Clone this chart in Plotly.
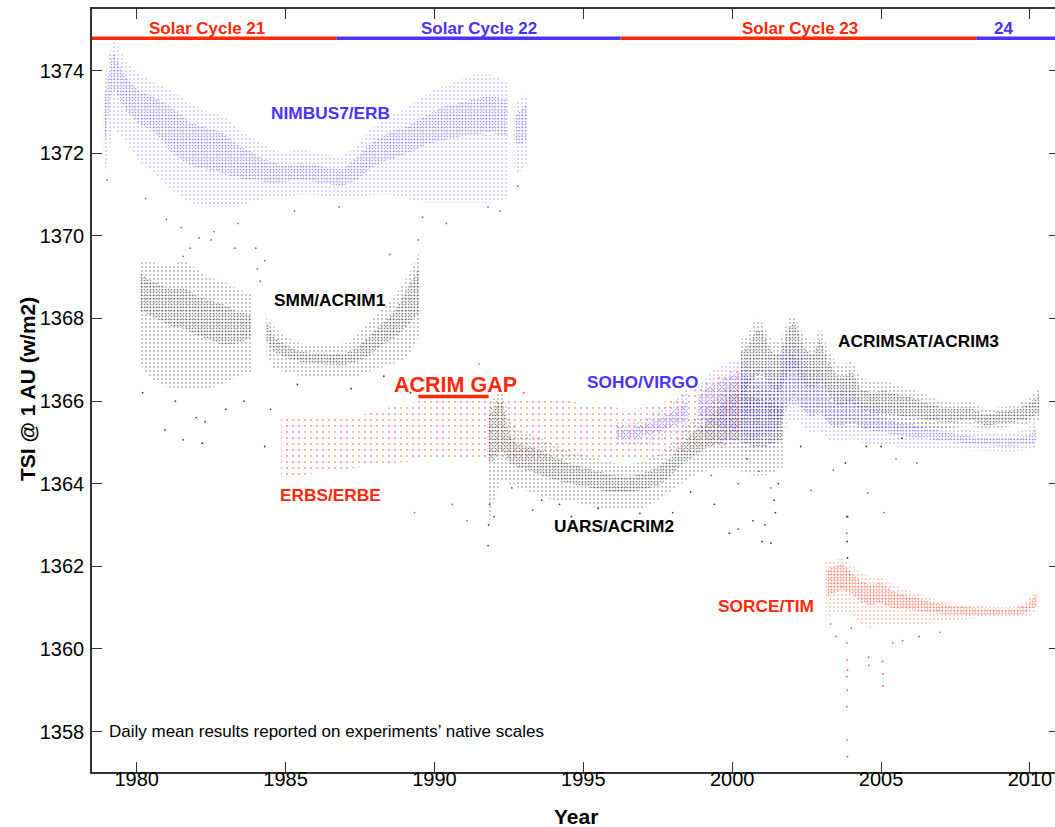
import plotly.graph_objects as go

BLUE = "#4B32FF"
RED = "#FF2A0A"
BLACK = "#000000"
FONT = "Liberation Sans, Arial, Helvetica, sans-serif"

# ---------------- data ----------------
# NIMBUS7/ERB  (None = data gap)
nim_yr   = [1978.88, 1979.05, 1979.2, 1979.5, 1979.8, 1980.1, 1980.6, 1981.2, 1981.8, 1982.4, 1982.9, 1983.4, 1983.8, 1984.3, 1984.9, 1985.5, 1986.0, 1986.5, 1986.9, 1987.4, 1987.9, 1988.5, 1989.1, 1989.7, 1990.2, 1990.8, 1991.3, 1991.9, 1992.45, None, 1992.68, 1992.85, 1993.1]
nim_clo  = [1372.0, 1372.9, 1373.6, 1373.2, 1372.9, 1372.7, 1372.5, 1372.0, 1371.7, 1371.6, 1371.5, 1371.4, 1371.35, 1371.3, 1371.3, 1371.35, 1371.3, 1371.25, 1371.2, 1371.35, 1371.65, 1371.85, 1372.0, 1372.2, 1372.3, 1372.4, 1372.45, 1372.5, 1372.4, None, 1372.3, 1372.2, 1372.3]
nim_chi  = [1373.2, 1373.9, 1374.5, 1374.0, 1373.7, 1373.5, 1373.35, 1373.1, 1372.75, 1372.6, 1372.5, 1372.2, 1372.05, 1371.85, 1371.7, 1371.75, 1371.7, 1371.65, 1371.6, 1371.9, 1372.25, 1372.5, 1372.65, 1372.9, 1373.1, 1373.2, 1373.3, 1373.4, 1373.3, None, 1372.9, 1373.0, 1373.2]
nim_slo  = [1371.3, 1372.0, 1372.6, 1372.4, 1372.1, 1371.8, 1371.5, 1371.1, 1370.8, 1370.7, 1370.7, 1370.7, 1370.8, 1370.9, 1370.9, 1371.0, 1371.0, 1370.9, 1370.9, 1370.9, 1371.0, 1371.0, 1370.9, 1370.8, 1370.8, 1370.8, 1370.8, 1370.8, 1370.9, None, 1371.6, 1371.5, 1371.7]
nim_shi  = [1373.6, 1374.3, 1374.8, 1374.4, 1374.1, 1373.9, 1373.7, 1373.5, 1373.2, 1373.0, 1372.9, 1372.6, 1372.4, 1372.2, 1372.0, 1372.1, 1372.0, 1371.95, 1371.9, 1372.2, 1372.6, 1372.9, 1373.1, 1373.4, 1373.6, 1373.75, 1373.9, 1373.9, 1373.7, None, 1373.2, 1373.3, 1373.4]
nim_dip_yr = [1979.0, 1980.3, 1981.0, 1981.5, 1981.56, 1981.8, 1982.1, 1982.5, 1982.6, 1983.3, 1983.4, 1984.0, 1984.05, 1984.15, 1984.3, 1985.3, 1986.8, 1988.5, 1989.46, 1989.6, 1990.4, 1991.8, 1992.2, 1992.8]
nim_dip_v  = [1371.35, 1370.9, 1370.4, 1370.2, 1369.5, 1369.7, 1369.95, 1369.9, 1370.1, 1369.7, 1370.3, 1369.7, 1369.2, 1368.9, 1369.4, 1370.6, 1370.7, 1369.55, 1369.9, 1370.45, 1370.3, 1370.7, 1370.6, 1371.2]

# SMM/ACRIM1
ac1_yr  = [1980.1, 1980.4, 1980.8, 1981.2, 1981.6, 1982.0, 1982.4, 1982.9, 1983.4, 1983.85, None, 1984.35, 1984.6, 1985.0, 1985.5, 1986.0, 1986.5, 1987.0, 1987.4, 1987.8, 1988.2, 1988.6, 1989.0, 1989.3, 1989.5]
ac1_clo = [1368.2, 1368.1, 1367.95, 1367.8, 1367.75, 1367.6, 1367.5, 1367.35, 1367.4, 1367.55, None, 1367.45, 1367.2, 1367.05, 1366.95, 1366.9, 1366.88, 1366.88, 1366.95, 1367.1, 1367.35, 1367.5, 1367.75, 1368.0, 1368.1]
ac1_chi = [1369.1, 1368.95, 1368.8, 1368.7, 1368.75, 1368.55, 1368.45, 1368.35, 1368.15, 1368.1, None, 1367.95, 1367.55, 1367.35, 1367.2, 1367.15, 1367.12, 1367.15, 1367.3, 1367.55, 1367.85, 1368.1, 1368.6, 1369.0, 1369.25]
ac1_slo = [1366.9, 1366.6, 1366.4, 1366.3, 1366.3, 1366.3, 1366.3, 1366.4, 1366.6, 1366.7, None, 1367.1, 1366.8, 1366.7, 1366.6, 1366.6, 1366.6, 1366.6, 1366.6, 1366.7, 1366.8, 1366.9, 1367.0, 1367.3, 1367.6]
ac1_shi = [1369.4, 1369.4, 1369.3, 1369.3, 1369.4, 1369.2, 1369.0, 1368.9, 1368.7, 1368.6, None, 1368.1, 1367.8, 1367.55, 1367.4, 1367.35, 1367.35, 1367.4, 1367.6, 1367.9, 1368.2, 1368.5, 1368.9, 1369.3, 1369.6]
ac1_dip_yr = [1980.2, 1980.95, 1981.3, 1981.56, 1982.0, 1982.2, 1982.3, 1983.0, 1983.6, 1984.3, 1984.5, 1985.4, 1987.2, 1988.3, 1989.2]
ac1_dip_v  = [1366.2, 1365.3, 1366.0, 1365.06, 1365.6, 1364.98, 1365.5, 1365.8, 1366.0, 1364.9, 1365.8, 1366.4, 1366.3, 1366.6, 1366.2]

# ERBS/ERBE
erb_yr  = [1984.85, 1985.5, 1986.5, 1987.5, 1988.5, 1989.5, 1990.5, 1991.5, 1992.5, 1993.5, 1994.5, 1995.5, 1996.5, 1997.5, 1998.5, 1999.5, 2000.3]
erb_lo  = [1364.2, 1364.2, 1364.3, 1364.4, 1364.5, 1364.55, 1364.6, 1364.6, 1364.6, 1364.6, 1364.6, 1364.6, 1364.6, 1364.65, 1364.8, 1364.9, 1365.0]
erb_hi  = [1365.6, 1365.6, 1365.55, 1365.65, 1365.85, 1366.0, 1366.05, 1366.1, 1366.1, 1366.0, 1366.0, 1365.9, 1365.8, 1365.9, 1366.2, 1366.6, 1366.8]
erb_dip_yr = [1989.33, 1990.6, 1991.1, 1991.5, 1993.0]
erb_dip_v  = [1363.3, 1363.5, 1363.1, 1366.9, 1366.2]

# UARS/ACRIM2
ac2_yr  = [1991.77, 1991.9, 1992.1, 1992.3, 1992.5, 1992.8, 1993.2, 1993.6, 1994.0, 1994.5, 1995.0, 1995.5, 1996.0, 1996.5, 1997.0, 1997.5, 1997.9, 1998.3, 1998.7, 1999.1, 1999.5, 1999.9, 2000.3, 2000.7, 2001.1, 2001.5, 2001.7]
ac2_clo = [1364.6, 1364.5, 1364.7, 1364.8, 1364.5, 1364.4, 1364.3, 1364.2, 1364.1, 1364.0, 1363.95, 1363.85, 1363.8, 1363.8, 1363.85, 1363.95, 1364.15, 1364.45, 1364.65, 1364.85, 1364.95, 1365.05, 1365.0, 1364.9, 1364.9, 1365.0, 1365.0]
ac2_chi = [1365.6, 1365.7, 1365.95, 1365.95, 1365.2, 1364.95, 1364.9, 1364.8, 1364.65, 1364.5, 1364.4, 1364.3, 1364.2, 1364.15, 1364.25, 1364.4, 1364.6, 1364.95, 1365.25, 1365.45, 1365.8, 1366.1, 1366.2, 1366.1, 1366.0, 1365.9, 1365.8]
ac2_slo = [1362.6, 1363.3, 1363.8, 1364.1, 1364.0, 1363.9, 1363.8, 1363.7, 1363.6, 1363.6, 1363.5, 1363.4, 1363.4, 1363.4, 1363.4, 1363.6, 1363.8, 1364.0, 1364.2, 1364.3, 1364.4, 1364.4, 1364.3, 1364.2, 1364.2, 1364.3, 1364.4]
ac2_shi = [1365.9, 1366.0, 1366.25, 1366.2, 1365.6, 1365.3, 1365.2, 1365.1, 1364.95, 1364.8, 1364.7, 1364.6, 1364.5, 1364.45, 1364.55, 1364.7, 1364.9, 1365.25, 1365.55, 1365.8, 1366.1, 1366.4, 1366.5, 1366.4, 1366.3, 1366.2, 1366.0]
ac2_dip_yr = [1991.8, 1991.82, 1991.85, 1992.0, 1992.6, 1993.3, 1993.6, 1994.2, 1994.6, 1995.5, 1996.9, 1998.0, 1998.6, 1999.4, 1999.9, 2000.2, 2000.7, 2001.0, 2001.3]
ac2_dip_v  = [1362.5, 1363.0, 1363.5, 1363.2, 1363.9, 1363.36, 1363.6, 1363.5, 1363.2, 1363.4, 1363.28, 1363.3, 1363.8, 1363.5, 1362.8, 1362.9, 1363.1, 1362.6, 1362.56]

# ACRIMSAT/ACRIM3
ac3_yr  = [2000.3, 2000.5, 2000.8, 2001.0, 2001.3, 2001.6, 2001.9, 2002.1, 2002.4, 2002.7, 2002.95, 2003.2, 2003.5, 2003.8, 2004.0, 2004.3, 2004.7, 2005.1, 2005.6, 2006.0, 2006.5, 2007.0, 2007.5, 2008.0, 2008.5, 2009.0, 2009.5, 2009.9, 2010.3]
ac3_clo = [1366.1, 1366.3, 1366.6, 1366.7, 1366.3, 1366.2, 1366.7, 1366.8, 1366.4, 1366.3, 1366.5, 1366.2, 1365.9, 1365.9, 1366.0, 1365.8, 1365.7, 1365.7, 1365.65, 1365.6, 1365.55, 1365.5, 1365.5, 1365.55, 1365.4, 1365.45, 1365.5, 1365.55, 1365.7]
ac3_chi = [1367.2, 1367.3, 1367.7, 1367.7, 1367.2, 1367.1, 1367.8, 1367.9, 1367.3, 1367.1, 1367.5, 1367.0, 1366.6, 1366.6, 1366.75, 1366.3, 1366.2, 1366.25, 1366.15, 1366.1, 1365.95, 1365.85, 1365.85, 1365.85, 1365.65, 1365.75, 1365.8, 1365.9, 1366.15]
ac3_slo = [1365.5, 1365.7, 1365.9, 1366.0, 1365.6, 1365.5, 1366.0, 1366.1, 1365.8, 1365.6, 1365.8, 1365.5, 1365.3, 1365.3, 1365.4, 1365.3, 1365.3, 1365.3, 1365.3, 1365.3, 1365.3, 1365.3, 1365.35, 1365.4, 1365.3, 1365.35, 1365.4, 1365.45, 1365.55]
ac3_shi = [1367.5, 1367.6, 1368.0, 1367.9, 1367.5, 1367.4, 1368.05, 1368.05, 1367.6, 1367.4, 1367.8, 1367.3, 1366.9, 1366.9, 1367.0, 1366.6, 1366.45, 1366.5, 1366.35, 1366.3, 1366.15, 1366.0, 1365.95, 1366.0, 1365.8, 1365.85, 1365.9, 1366.05, 1366.3]
ac3_dip_yr = [2000.5, 2001.1, 2001.4, 2001.45, 2001.55, 2002.3, 2003.8, 2003.85, 2003.86, 2003.87, 2004.5, 2005.0, 2005.7]
ac3_dip_v  = [1364.6, 1363.0, 1363.6, 1363.3, 1364.0, 1364.9, 1364.5, 1363.2, 1362.6, 1362.2, 1364.9, 1364.9, 1365.1]

# SOHO/VIRGO
vir_yr  = [1996.1, 1996.5, 1997.0, 1997.5, 1997.9, 1998.3, 1998.5, None, 1998.85, 1999.1, 1999.5, 1999.9, 2000.3, 2000.7, 2001.1, 2001.5, 2001.9, 2002.2, 2002.6, 2002.95, 2003.3, 2003.7, 2004.0, 2004.5, 2005.0, 2005.5, 2006.0, 2006.5, 2007.0, 2007.5, 2008.0, 2008.5, 2009.0, 2009.5, 2009.9, 2010.2]
vir_clo = [1365.12, 1365.08, 1365.15, 1365.25, 1365.35, 1365.5, 1365.5, None, 1365.65, 1365.5, 1365.4, 1365.3, 1365.2, 1365.1, 1365.2, 1365.3, 1365.9, 1365.9, 1365.6, 1365.7, 1365.4, 1365.4, 1365.5, 1365.3, 1365.25, 1365.18, 1365.12, 1365.08, 1365.03, 1365.0, 1364.98, 1364.95, 1364.92, 1364.92, 1364.95, 1365.0]
vir_chi = [1365.38, 1365.32, 1365.42, 1365.55, 1365.7, 1365.9, 1366.0, None, 1366.1, 1366.3, 1366.45, 1366.6, 1366.7, 1366.5, 1366.5, 1366.4, 1367.2, 1367.0, 1366.4, 1366.5, 1366.0, 1366.0, 1366.05, 1365.7, 1365.62, 1365.5, 1365.45, 1365.35, 1365.28, 1365.2, 1365.15, 1365.1, 1365.08, 1365.1, 1365.15, 1365.35]
vir_slo = [1364.95, 1364.9, 1364.95, 1365.0, 1365.1, 1365.2, 1365.2, None, 1365.3, 1365.1, 1365.0, 1364.9, 1364.8, 1364.7, 1364.8, 1364.9, 1365.5, 1365.5, 1365.2, 1365.3, 1365.0, 1365.0, 1365.1, 1364.95, 1364.95, 1364.9, 1364.85, 1364.85, 1364.85, 1364.82, 1364.8, 1364.8, 1364.78, 1364.78, 1364.8, 1364.85]
vir_shi = [1365.5, 1365.45, 1365.55, 1365.75, 1365.9, 1366.2, 1366.3, None, 1366.35, 1366.6, 1366.8, 1366.95, 1367.0, 1366.8, 1366.8, 1366.7, 1367.6, 1367.3, 1366.7, 1366.8, 1366.3, 1366.3, 1366.3, 1365.9, 1365.8, 1365.7, 1365.6, 1365.5, 1365.42, 1365.35, 1365.3, 1365.25, 1365.22, 1365.25, 1365.3, 1365.55]
vir_dip_yr = [1999.3, 2000.2, 2000.9, 2001.3, 2002.64, 2003.4, 2003.85, 2003.88, 2004.55, 2005.1, 2005.5, 2006.2]
vir_dip_v  = [1364.2, 1364.0, 1364.3, 1363.9, 1363.84, 1364.33, 1362.8, 1363.2, 1363.77, 1363.3, 1364.6, 1364.5]

# SORCE/TIM
tim_yr  = [2003.15, 2003.4, 2003.7, 2004.0, 2004.3, 2004.6, 2005.0, 2005.4, 2005.8, 2006.2, 2006.6, 2007.0, 2007.5, 2008.0, 2008.5, 2009.0, 2009.5, 2009.8, 2010.0, 2010.25]
tim_clo = [1361.25, 1361.35, 1361.45, 1361.35, 1361.15, 1361.05, 1361.1, 1360.97, 1360.95, 1360.93, 1360.88, 1360.85, 1360.83, 1360.82, 1360.82, 1360.82, 1360.83, 1360.85, 1360.95, 1361.05]
tim_chi = [1361.9, 1362.0, 1362.05, 1361.85, 1361.65, 1361.55, 1361.6, 1361.4, 1361.3, 1361.25, 1361.15, 1361.08, 1361.03, 1361.0, 1360.97, 1360.95, 1360.98, 1361.05, 1361.15, 1361.35]
tim_slo = [1360.7, 1360.9, 1360.9, 1360.8, 1360.6, 1360.5, 1360.6, 1360.6, 1360.6, 1360.6, 1360.6, 1360.65, 1360.7, 1360.72, 1360.75, 1360.75, 1360.75, 1360.75, 1360.8, 1360.9]
tim_shi = [1362.1, 1362.15, 1362.2, 1362.05, 1361.85, 1361.75, 1361.75, 1361.55, 1361.45, 1361.35, 1361.25, 1361.15, 1361.1, 1361.06, 1361.03, 1361.0, 1361.03, 1361.12, 1361.25, 1361.45]
tim_dip_yr = [2003.3, 2003.48, 2003.85, 2003.86, 2003.87, 2003.85, 2003.86, 2003.85, 2003.86, 2003.87, 2004.0, 2004.58, 2004.59, 2005.05, 2005.06, 2005.07, 2005.39, 2005.72, 2006.27, 2006.98]
tim_dip_v  = [1360.6, 1360.3, 1360.14, 1359.73, 1359.49, 1359.33, 1359.0, 1358.6, 1357.8, 1357.39, 1360.5, 1359.8, 1359.6, 1359.7, 1359.4, 1359.1, 1360.14, 1360.2, 1360.3, 1360.4]

# Solar cycles
cyc_names = ["Solar Cycle 21", "Solar Cycle 22", "Solar Cycle 23", "24"]
cyc_start = [1978.5, 1986.72, 1996.25, 2008.2]
cyc_end   = [1986.72, 1996.25, 2008.2, 2011.0]
cyc_label_x = [1982.35, 1991.5, 2002.27, 2009.1]
cyc_colors = [RED, BLUE, RED, BLUE]
cyc_bar_y = 1374.78
cyc_text_y = 1375.02

# ACRIM gap
gap_start, gap_end, gap_y = 1989.46, 1991.82, 1366.11

# Instrument labels
lab_text = ["NIMBUS7/ERB", "SMM/ACRIM1", "ERBS/ERBE", "UARS/ACRIM2", "SOHO/VIRGO", "ACRIMSAT/ACRIM3", "SORCE/TIM"]
lab_x    = [1986.5, 1986.5, 1986.5, 1996.02, 1997.0, 2006.27, 2001.13]
lab_y    = [1372.98, 1368.45, 1363.73, 1362.98, 1366.47, 1367.46, 1361.04]
lab_col  = [BLUE, BLACK, RED, BLACK, BLUE, BLACK, RED]

# ---------------- figure ----------------
def split(xs, *cols):
    segs, cur = [], [[] for _ in range(len(cols) + 1)]
    for i, x in enumerate(xs):
        if x is None:
            segs.append(cur)
            cur = [[] for _ in range(len(cols) + 1)]
        else:
            cur[0].append(x)
            for k, c in enumerate(cols):
                cur[k + 1].append(c[i])
    segs.append(cur)
    return segs


def band(xs, lo, hi, color, size, solidity):
    px, py = [], []
    for sx, slo, shi in split(xs, lo, hi):
        if px:
            px.append(None)
            py.append(None)
        px += sx + sx[::-1] + [sx[0]]
        py += shi + slo[::-1] + [shi[0]]
    return go.Scatter(
        x=px, y=py, mode="none", fill="toself",
        fillcolor="rgba(0,0,0,0)",
        fillpattern=dict(shape=".", fgcolor=color, bgcolor="rgba(0,0,0,0)",
                         size=size, solidity=solidity),
        hoverinfo="skip", showlegend=False,
    )


def dips(xs, ys, color):
    return go.Scatter(x=xs, y=ys, mode="markers",
                      marker=dict(size=1.8, color=color, opacity=0.75, line=dict(width=0)),
                      hoverinfo="skip", showlegend=False)


OUT_SIZE, OUT_SOL = 4, 0.12
CORE_SIZE, CORE_SOL = 3, 0.25

fig = go.Figure()

# ERBS (sparse)
fig.add_trace(band(erb_yr, erb_lo, erb_hi, RED, 6, 0.08))
fig.add_trace(dips(erb_dip_yr, erb_dip_v, RED))

# NIMBUS7
fig.add_trace(band(nim_yr, nim_slo, nim_shi, BLUE, OUT_SIZE, OUT_SOL))
fig.add_trace(band(nim_yr, nim_clo, nim_chi, BLUE, CORE_SIZE, CORE_SOL))
fig.add_trace(dips(nim_dip_yr, nim_dip_v, BLUE))

# ACRIM1
fig.add_trace(band(ac1_yr, ac1_slo, ac1_shi, BLACK, OUT_SIZE, OUT_SOL))
fig.add_trace(band(ac1_yr, ac1_clo, ac1_chi, BLACK, CORE_SIZE, CORE_SOL))
fig.add_trace(dips(ac1_dip_yr, ac1_dip_v, BLACK))

# ACRIM2
fig.add_trace(band(ac2_yr, ac2_slo, ac2_shi, BLACK, OUT_SIZE, OUT_SOL))
fig.add_trace(band(ac2_yr, ac2_clo, ac2_chi, BLACK, CORE_SIZE, CORE_SOL))
fig.add_trace(dips(ac2_dip_yr, ac2_dip_v, BLACK))

# ACRIM3
fig.add_trace(band(ac3_yr, ac3_slo, ac3_shi, BLACK, OUT_SIZE, OUT_SOL))
fig.add_trace(band(ac3_yr, ac3_clo, ac3_chi, BLACK, CORE_SIZE, CORE_SOL))
fig.add_trace(dips(ac3_dip_yr, ac3_dip_v, BLACK))

# VIRGO
fig.add_trace(band(vir_yr, vir_slo, vir_shi, BLUE, OUT_SIZE, OUT_SOL))
fig.add_trace(band(vir_yr, vir_clo, vir_chi, BLUE, CORE_SIZE, CORE_SOL))
fig.add_trace(dips(vir_dip_yr, vir_dip_v, BLUE))

# TIM
fig.add_trace(band(tim_yr, tim_slo, tim_shi, RED, OUT_SIZE, OUT_SOL))
fig.add_trace(band(tim_yr, tim_clo, tim_chi, RED, CORE_SIZE, CORE_SOL + 0.04))
fig.add_trace(dips(tim_dip_yr, tim_dip_v, RED))

# Solar cycle bar
for s, e, c in zip(cyc_start, cyc_end, cyc_colors):
    fig.add_trace(go.Scatter(x=[s, e], y=[cyc_bar_y, cyc_bar_y], mode="lines",
                             line=dict(color=c, width=3.5), hoverinfo="skip",
                             showlegend=False))

# ACRIM gap underline
fig.add_trace(go.Scatter(x=[gap_start, gap_end], y=[gap_y, gap_y], mode="lines",
                         line=dict(color=RED, width=3.5), hoverinfo="skip",
                         showlegend=False))

annotations = []
for t, x, c in zip(cyc_names, cyc_label_x, cyc_colors):
    annotations.append(dict(x=x, y=cyc_text_y, xref="x", yref="y", text="<b>%s</b>" % t,
                            showarrow=False, font=dict(family=FONT, size=17, color=c),
                            xanchor="center", yanchor="middle"))
for t, x, y, c in zip(lab_text, lab_x, lab_y, lab_col):
    annotations.append(dict(x=x, y=y, xref="x", yref="y", text="<b>%s</b>" % t,
                            showarrow=False, font=dict(family=FONT, size=17.3, color=c),
                            xanchor="center", yanchor="middle"))
annotations.append(dict(x=1990.7, y=1366.39, xref="x", yref="y", text="<b>ACRIM GAP</b>",
                        showarrow=False, font=dict(family=FONT, size=21.5, color=RED),
                        xanchor="center", yanchor="middle"))
annotations.append(dict(x=1979.0, y=1358.0, xref="x", yref="y",
                        text="Daily mean results reported on experiments\u2019 native scales",
                        showarrow=False, font=dict(family=FONT, size=17, color=BLACK),
                        xanchor="left", yanchor="middle"))
annotations.append(dict(x=(576 - 92) / 963, y=(772 - 816) / 763, xref="paper", yref="paper",
                        text="<b>Year</b>", showarrow=False,
                        font=dict(family=FONT, size=21, color=BLACK),
                        xanchor="center", yanchor="middle"))
annotations.append(dict(x=(27 - 92) / 963, y=(772 - 389) / 763, xref="paper", yref="paper",
                        text="<b>TSI @ 1 AU (w/m2)</b>", showarrow=False, textangle=-90,
                        font=dict(family=FONT, size=21, color=BLACK),
                        xanchor="center", yanchor="middle"))

XR = [1978.5, 2010.84]
YR = [1357.02, 1375.49]

fig.update_layout(
    width=1055, height=827,
    margin=dict(l=92, r=0, t=9, b=55),
    paper_bgcolor="white", plot_bgcolor="white",
    font=dict(family=FONT, size=20, color="black"),
    annotations=annotations,
    showlegend=False,
    xaxis=dict(range=XR, tickvals=[1980, 1985, 1990, 1995, 2000, 2005, 2010],
               ticks="inside", ticklen=10, tickwidth=1.3, tickcolor="#333",
               showline=True, linecolor="#333", linewidth=1.6, mirror="ticks",
               showgrid=False, zeroline=False, tickfont=dict(size=20),
               ticklabelstandoff=-12),
    yaxis=dict(range=YR, tickvals=[1358, 1360, 1362, 1364, 1366, 1368, 1370, 1372, 1374],
               ticks="inside", ticklen=10, tickwidth=1.3, tickcolor="#333",
               showline=True, linecolor="#333", linewidth=1.6,
               showgrid=False, zeroline=False, tickfont=dict(size=20),
               ticklabelstandoff=2),
    yaxis2=dict(range=YR, overlaying="y", side="right", anchor="x",
                tickvals=[1358, 1360, 1362, 1364, 1366, 1368, 1370, 1372, 1374],
                ticks="inside", ticklen=6, tickwidth=1.3, tickcolor="#333",
                showticklabels=False, showline=False, showgrid=False, zeroline=False),
)
# invisible trace to activate the right-hand tick axis
fig.add_trace(go.Scatter(x=[XR[0]], y=[YR[0]], yaxis="y2", mode="markers",
                         marker=dict(size=0.1, opacity=0), hoverinfo="skip", showlegend=False))

fig.write_html("out.html")
